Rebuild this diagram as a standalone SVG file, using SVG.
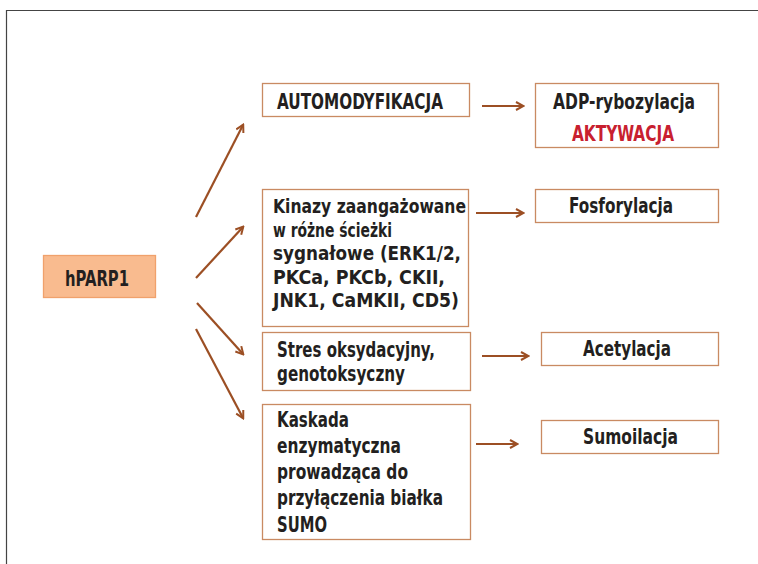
<svg xmlns="http://www.w3.org/2000/svg" width="758" height="564" viewBox="0 0 758 564">
<defs>
<marker id="ah" viewBox="0 0 10 10" refX="8" refY="5" markerWidth="10" markerHeight="10" markerUnits="userSpaceOnUse" orient="auto">
<path d="M1,1 L8.5,5 L1,9" fill="none" stroke="#9c4f24" stroke-width="2"/>
</marker>
</defs>
<style>
.box{fill:#ffffff;stroke:#c98a62;stroke-width:1.3}
.main{fill:#f9bb8f;stroke:#f0a16c;stroke-width:1.3}
text{font-family:"DejaVu Sans Condensed","Liberation Sans",Arial,sans-serif;font-weight:bold;font-size:22px;fill:#231f20}
.sm{font-size:20px}
.red{fill:#c8202f}
.ar{stroke:#9c4f24;stroke-width:2.2;fill:none;marker-end:url(#ah)}
.frame{stroke:#444;stroke-width:1.2;fill:none}
</style>
<path class="frame" d="M6.5,564 V10.5 H758"/>
<g id="hparp1"><rect class="main" x="43.5" y="255.5" width="112" height="42"/><text x="65" y="286" textLength="64" lengthAdjust="spacingAndGlyphs">hPARP1</text></g>
<g id="automod"><rect class="box" x="262.5" y="83.5" width="207" height="33"/><text x="277" y="109" textLength="166" lengthAdjust="spacingAndGlyphs">AUTOMODYFIKACJA</text></g>
<g id="adp"><rect class="box" x="535.5" y="83.5" width="183" height="64"/><text><tspan x="553" y="109" textLength="142" lengthAdjust="spacingAndGlyphs">ADP-rybozylacja</tspan><tspan class="red" x="572" y="141" textLength="102" lengthAdjust="spacingAndGlyphs">AKTYWACJA</tspan></text></g>
<g id="kinazy"><rect class="box" x="262.5" y="189.5" width="206" height="137"/>
<text class="sm"><tspan x="273" y="213" textLength="193" lengthAdjust="spacingAndGlyphs">Kinazy zaangażowane</tspan><tspan x="273" y="236.5" textLength="119" lengthAdjust="spacingAndGlyphs">w różne ścieżki</tspan><tspan x="273" y="260" textLength="188" lengthAdjust="spacingAndGlyphs">sygnałowe (ERK1/2,</tspan><tspan x="273" y="283.5" textLength="172" lengthAdjust="spacingAndGlyphs">PKCa, PKCb, CKII,</tspan><tspan x="273" y="307" textLength="186" lengthAdjust="spacingAndGlyphs">JNK1, CaMKII, CD5)</tspan></text></g>
<g id="fosfo"><rect class="box" x="535.5" y="189.5" width="183" height="33"/><text x="569" y="213" textLength="104" lengthAdjust="spacingAndGlyphs">Fosforylacja</text></g>
<g id="stres"><rect class="box" x="262.5" y="332.5" width="208" height="58"/>
<text><tspan x="277" y="357" textLength="158" lengthAdjust="spacingAndGlyphs">Stres oksydacyjny,</tspan><tspan x="277" y="381" textLength="128" lengthAdjust="spacingAndGlyphs">genotoksyczny</tspan></text></g>
<g id="acetyl"><rect class="box" x="541.5" y="332.5" width="177" height="33"/><text x="583" y="356" textLength="88" lengthAdjust="spacingAndGlyphs">Acetylacja</text></g>
<g id="kaskada"><rect class="box" x="262.5" y="404.5" width="208" height="135"/>
<text><tspan x="277" y="427" textLength="72" lengthAdjust="spacingAndGlyphs">Kaskada</tspan><tspan x="277" y="453" textLength="124" lengthAdjust="spacingAndGlyphs">enzymatyczna</tspan><tspan x="277" y="479" textLength="131" lengthAdjust="spacingAndGlyphs">prowadząca do</tspan><tspan x="277" y="505" textLength="166" lengthAdjust="spacingAndGlyphs">przyłączenia białka</tspan><tspan x="277" y="532" textLength="50" lengthAdjust="spacingAndGlyphs">SUMO</tspan></text></g>
<g id="sumo"><rect class="box" x="541.5" y="420.5" width="177" height="33"/><text x="583" y="444" textLength="95" lengthAdjust="spacingAndGlyphs">Sumoilacja</text></g>
<g id="connectors">
<line class="ar" x1="196" y1="217" x2="243" y2="125"/>
<line class="ar" x1="196" y1="278" x2="243" y2="227"/>
<line class="ar" x1="197" y1="303" x2="243" y2="354"/>
<line class="ar" x1="196" y1="329" x2="243" y2="418"/>
<line class="ar" x1="482" y1="106" x2="523" y2="106"/>
<line class="ar" x1="476" y1="213" x2="523" y2="213"/>
<line class="ar" x1="482" y1="356" x2="528" y2="356"/>
<line class="ar" x1="476" y1="444" x2="517" y2="444"/>
</g>
</svg>
